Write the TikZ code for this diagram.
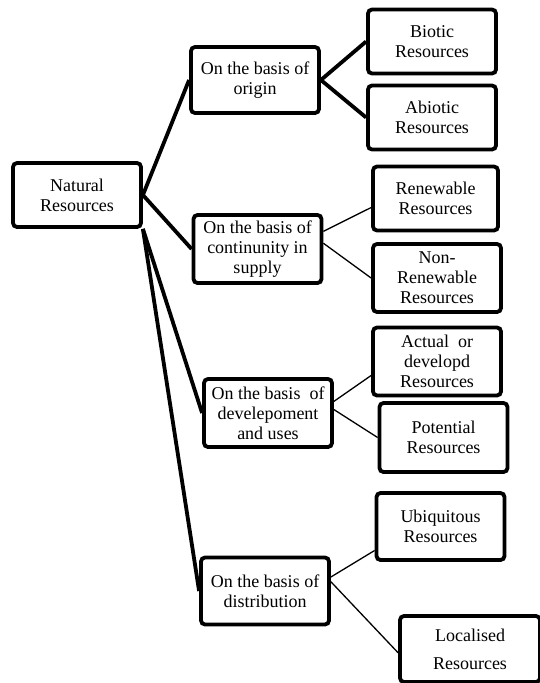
\documentclass[tikz,border=0pt]{standalone}
\usepackage{fontspec}
\setmainfont{Liberation Serif}
\begin{document}
\begin{tikzpicture}
[x=1pt, y=-1pt,
 resbox/.style={draw, line width=3.8pt, rounded corners=4pt, align=center, inner sep=0pt,
   minimum width=128pt, minimum height=64pt, font=\fontsize{18}{20}\selectfont},
 thickline/.style={line width=3.8pt},
 thinline/.style={line width=1.3pt}]
\useasboundingbox (0,0) rectangle (540,683);
% root and the four bases
\node [resbox] (nat) at (77,195) {Natural\\Resources};
\node [resbox, minimum height=66pt] (origin) at (255,80) {On the basis of\\origin};
\node [resbox, minimum height=68pt] (cont) at (257.5,249) {On the basis of\\continunity in\\supply};
\node [resbox, minimum height=68pt] (devel) at (268,413) {On the basis \ of\\develepoment\\and uses};
\node [resbox, minimum height=67pt] (distrib) at (265,591) {On the basis of\\distribution};
% kinds of resources
\node [resbox] (biotic) at (432,41.5) {Biotic\\Resources};
\node [resbox] (abiotic) at (432,117.5) {Abiotic\\Resources};
\node [resbox, minimum width=125pt] (renew) at (435.5,198.5) {Renewable\\Resources};
\node [resbox, minimum height=68pt] (nonren) at (437,278) {Non-\\Renewable\\Resources};
\node [resbox, minimum height=68pt] (actual) at (437,361.5) {Actual \ or\\developd\\Resources};
\node [resbox, minimum height=69pt] (potential) at (443.5,437.5) {Potential\\Resources};
\node [resbox, minimum height=67pt] (ubiq) at (440.5,526.5) {Ubiquitous\\Resources};
\node [resbox, minimum width=140pt, minimum height=66pt] (local) at (470,649) {Localised\\[8pt]Resources};
% connectors
\draw [thickline] (nat.east) -- (origin.west);
\draw [thickline] (nat.east) -- (cont.west);
\draw [thickline] (nat.south east) -- (devel.west);
\draw [thickline] (nat.south east) -- (distrib.west);
\draw [thickline] (origin.east) -- (biotic.west);
\draw [thickline] (origin.east) -- (abiotic.west);
\draw [thinline] (cont.15) -- (renew.188);
\draw [thinline] (cont.5) -- (nonren.west);
\draw [thinline] (devel.10) -- (actual.192);
\draw [thinline] (devel.3) -- (potential.west);
\draw [thinline] (distrib.12) -- (ubiq.200);
\draw [thinline] (distrib.8) -- (local.183);
\end{tikzpicture}
\end{document}
